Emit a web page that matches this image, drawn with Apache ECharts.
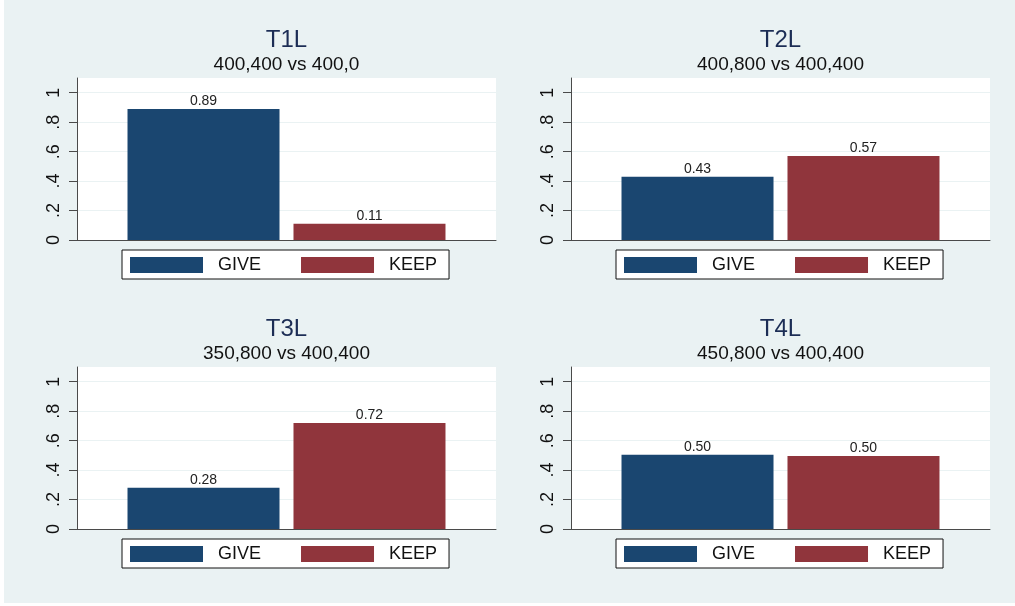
<!DOCTYPE html>
<html>
<head>
<meta charset="utf-8">
<script src="https://cdn.jsdelivr.net/npm/echarts@6/dist/echarts.min.js"></script>
<style>
html,body{margin:0;padding:0;background:#ffffff;}
#chart{position:absolute;left:4px;top:0;width:1011px;height:603px;}
</style>
</head>
<body>
<div id="chart"></div>
<script>
const categories = ['GIVE', 'KEEP'];
const panelTitles = ['T1L', 'T2L', 'T3L', 'T4L'];
const panelSubtitles = ['400,400 vs 400,0', '400,800 vs 400,400', '350,800 vs 400,400', '450,800 vs 400,400'];
const giveValues = [0.89, 0.43, 0.28, 0.504];
const keepValues = [0.11, 0.57, 0.72, 0.496];
const yTickValues = [0, 0.2, 0.4, 0.6, 0.8, 1];
const yTickLabels = ['0', '.2', '.4', '.6', '.8', '1'];

const FONT = '"Liberation Sans", Arial, Helvetica, sans-serif';
const colors = { GIVE: '#1a4670', KEEP: '#90353c' };
const bg = '#EAF2F3';
const axisColor = '#4a4a4a';

// panel layout (left/top of plot region)
const panels = [
  { left: 73, top: 78 },
  { left: 567, top: 78 },
  { left: 73, top: 367 },
  { left: 567, top: 367 }
];
const plotW = 419, plotH = 162;

const chart = echarts.init(document.getElementById('chart'), null, { renderer: 'canvas' });

const grid = [], xAxis = [], yAxis = [], series = [], title = [], legend = [];

panels.forEach((p, i) => {
  const cx = p.left + plotW / 2;
  grid.push({ left: p.left, top: p.top, width: plotW, height: plotH, show: true,
    backgroundColor: '#ffffff', borderWidth: 0, containLabel: false });
  xAxis.push({ type: 'category', gridIndex: i, data: [''],
    axisLine: { show: true, lineStyle: { color: axisColor, width: 1 } },
    axisTick: { show: false }, axisLabel: { show: false }, splitLine: { show: false } });
  yAxis.push({ type: 'value', gridIndex: i, min: 0, max: 1.1, interval: 0.2,
    axisLine: { show: true, lineStyle: { color: axisColor, width: 1 } },
    axisTick: { show: true, length: 8, lineStyle: { color: axisColor, width: 1 }, customValues: yTickValues },
    axisLabel: { show: true, rotate: 90, margin: 14, fontSize: 18, color: '#111', fontFamily: FONT,
      customValues: yTickValues,
      formatter: function (v) {
        const k = yTickValues.findIndex(t => Math.abs(t - v) < 1e-6);
        return k >= 0 ? yTickLabels[k] : '';
      } },
    splitLine: { show: true, lineStyle: { color: bg, width: 1 } } });
  const vals = [giveValues[i], keepValues[i]];
  categories.forEach((c, j) => {
    series.push({
      name: c, type: 'bar', xAxisIndex: i, yAxisIndex: i,
      data: [vals[j]], barWidth: 152, barGap: '9.2%',
      itemStyle: { color: colors[c] },
      label: { show: true, position: 'top', distance: 1, fontSize: 14, color: '#222', fontFamily: FONT,
        formatter: function (prm) { return prm.value.toFixed(2); } },
      emphasis: { disabled: true }, animation: false
    });
  });
  title.push({ text: panelTitles[i], left: cx, top: p.top - 49.5, textAlign: 'center', padding: 0,
    textStyle: { fontSize: 24, fontWeight: 'normal', color: '#1c2d55', fontFamily: FONT } });
  title.push({ text: panelSubtitles[i], left: cx, top: p.top - 22.5, textAlign: 'center', padding: 0,
    textStyle: { fontSize: 19, fontWeight: 'normal', color: '#111', fontFamily: FONT } });
  legend.push({ data: categories, left: p.left + 45, top: p.top + 172, orient: 'horizontal',
    itemWidth: 73, itemHeight: 16, itemGap: 40, icon: 'rect', selectedMode: false,
    padding: [6, 12, 5, 8], borderColor: '#111', borderWidth: 1, backgroundColor: '#ffffff',
    textStyle: { fontSize: 18, color: '#111', fontFamily: FONT, padding: [0, 0, 0, 10] } });
});

chart.setOption({
  backgroundColor: bg,
  animation: false,
  textStyle: { fontFamily: FONT },
  title: title, grid: grid, xAxis: xAxis, yAxis: yAxis, legend: legend, series: series
});
</script>
</body>
</html>
